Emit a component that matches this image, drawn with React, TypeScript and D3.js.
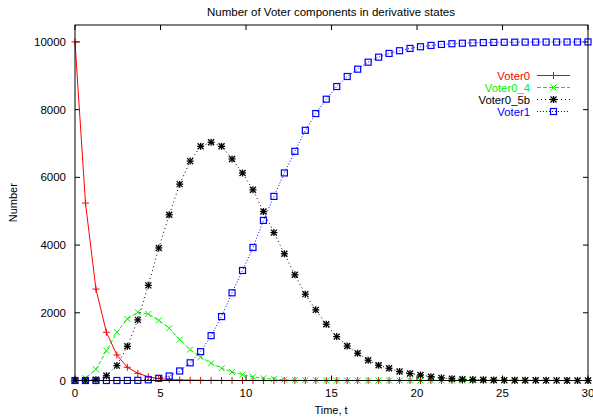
import React from "react";
import * as d3 from "d3";

const W = 593;
const H = 420;

const title = "Number of Voter components in derivative states";
const xLabel = "Time, t";
const yLabel = "Number";

const xTicks = [0, 5, 10, 15, 20, 25, 30];
const yTicks = [0, 2000, 4000, 6000, 8000, 10000];

const tEnd = 30;
const nSamples = 50;

const voter0 = [10000, 5240, 2700, 1425, 754, 390, 213, 112, 58, 30, 16, 8, 4, 2, 1, 1, 0, 0, 0, 0, 0, 0, 0, 0, 0, 0, 0, 0, 0, 0, 0, 0, 0, 0, 0, 0, 0, 0, 0, 0, 0, 0, 0, 0, 0, 0, 0, 0, 0, 0];
const voter0_4 = [0, 70, 330, 880, 1425, 1820, 2015, 1965, 1775, 1545, 1210, 915, 690, 508, 360, 250, 172, 112, 65, 38, 22, 13, 8, 5, 3, 2, 1, 1, 0, 0, 0, 0, 0, 0, 0, 0, 0, 0, 0, 0, 0, 0, 0, 0, 0, 0, 0, 0, 0, 0];
const voter0_5b = [0, 2, 20, 140, 440, 1010, 1790, 2810, 3915, 4896, 5800, 6480, 6917, 7036, 6917, 6544, 6130, 5632, 4990, 4368, 3743, 3121, 2550, 2086, 1663, 1296, 1020, 805, 598, 450, 361, 266, 205, 163, 112, 78, 50, 36, 27, 20, 15, 11, 8, 6, 5, 4, 3, 2, 1, 1];
const voter1 = [0, 0, 0, 0, 0, 2, 5, 20, 65, 133, 281, 522, 852, 1325, 1888, 2590, 3249, 3929, 4728, 5438, 6130, 6769, 7390, 7885, 8308, 8683, 8979, 9195, 9402, 9550, 9660, 9740, 9808, 9858, 9896, 9926, 9947, 9962, 9973, 9981, 9986, 9990, 9993, 9995, 9996, 9997, 9998, 9999, 9999, 10000];

const seriesNames = ["Voter0", "Voter0_4", "Voter0_5b", "Voter1"];
const seriesColors = ["#ff0000", "#00f000", "#000000", "#0000ff"];
const seriesDash = ["none", "4,2", "1,3", "1,2"];
const seriesMarker = ["plus", "cross", "star", "square"];

const FONT = "'Liberation Sans', Arial, Helvetica, sans-serif";

function Marker({ type, x, y, color }: { type: string; x: number; y: number; color: string }) {
  const s = 3.5;
  if (type === "plus") {
    return (
      <g stroke={color} strokeWidth={1}>
        <line x1={x - s} y1={y} x2={x + s} y2={y} />
        <line x1={x} y1={y - s} x2={x} y2={y + s} />
      </g>
    );
  }
  if (type === "cross") {
    const c = 3;
    return (
      <g stroke={color} strokeWidth={1}>
        <line x1={x - c} y1={y - c} x2={x + c} y2={y + c} />
        <line x1={x - c} y1={y + c} x2={x + c} y2={y - c} />
      </g>
    );
  }
  if (type === "star") {
    const c = 3;
    return (
      <g stroke={color} strokeWidth={1.3}>
        <line x1={x - s} y1={y} x2={x + s} y2={y} />
        <line x1={x} y1={y - s} x2={x} y2={y + s} />
        <line x1={x - c} y1={y - c} x2={x + c} y2={y + c} />
        <line x1={x - c} y1={y + c} x2={x + c} y2={y - c} />
      </g>
    );
  }
  return <rect x={x - 3} y={y - 3} width={6} height={6} fill="none" stroke={color} strokeWidth={1.2} />;
}

export default function App() {
  const left = 75;
  const right = 588;
  const top = 25;
  const bottom = 380.5;

  const x = d3.scaleLinear().domain([0, 30]).range([left, right]);
  const y = d3.scaleLinear().domain([0, 10500]).range([bottom, top]);

  const times = d3.range(nSamples).map((i) => (i * tEnd) / (nSamples - 1));
  const allSeries = [voter0, voter0_4, voter0_5b, voter1];

  const line = d3
    .line<number>()
    .x((_, i) => x(times[i]))
    .y((d) => y(d));

  const tickLen = 5;

  const legendTextX = 530;
  const legendLineX1 = 537;
  const legendLineX2 = 570;
  const legendY0 = 75.5;
  const legendDy = 12;

  return (
    <svg
      width={W}
      height={H}
      style={{ position: "absolute", left: 0, top: 0, background: "#fff" }}
      fontFamily={FONT}
    >
      <rect x={0} y={0} width={W} height={H} fill="#fff" />
      <text x={331} y={16} fontSize={11.5} textAnchor="middle" fill="#000">
        {title}
      </text>

      {yTicks.map((t) => (
        <g key={"y" + t}>
          <line x1={left} x2={left + tickLen} y1={y(t)} y2={y(t)} stroke="#000" />
          <line x1={right} x2={right - tickLen} y1={y(t)} y2={y(t)} stroke="#000" />
          <text x={66} y={y(t) + 4} fontSize={11.5} textAnchor="end" fill="#000">
            {t}
          </text>
        </g>
      ))}
      {xTicks.map((t) => (
        <g key={"x" + t}>
          <line x1={x(t)} x2={x(t)} y1={bottom} y2={bottom - tickLen} stroke="#000" />
          <line x1={x(t)} x2={x(t)} y1={top} y2={top + tickLen} stroke="#000" />
          <text x={x(t)} y={397} fontSize={11.5} textAnchor="middle" fill="#000">
            {t}
          </text>
        </g>
      ))}

      <text x={331} y={414} fontSize={11} textAnchor="middle" fill="#000">
        {xLabel}
      </text>
      <text
        transform={`translate(17,${(top + bottom) / 2}) rotate(-90)`}
        fontSize={11}
        textAnchor="middle"
        fill="#000"
      >
        {yLabel}
      </text>

      {allSeries.map((vals, si) => (
        <g key={"s" + si}>
          <path
            d={line(vals) || ""}
            fill="none"
            stroke={seriesColors[si]}
            strokeWidth={1}
            strokeDasharray={seriesDash[si] === "none" ? undefined : seriesDash[si]}
          />
          {vals.map((v, i) => (
            <Marker key={i} type={seriesMarker[si]} x={x(times[i])} y={y(v)} color={seriesColors[si]} />
          ))}
        </g>
      ))}

      <rect x={left} y={top} width={right - left} height={bottom - top} fill="none" stroke="#000" strokeWidth={1} />

      {seriesNames.map((name, si) => {
        const ly = legendY0 + si * legendDy;
        return (
          <g key={"l" + si}>
            <text x={legendTextX} y={ly + 4} fontSize={11.3} textAnchor="end" fill={seriesColors[si]}>
              {name}
            </text>
            <line
              x1={legendLineX1}
              x2={legendLineX2}
              y1={ly}
              y2={ly}
              stroke={seriesColors[si]}
              strokeWidth={1}
              strokeDasharray={seriesDash[si] === "none" ? undefined : seriesDash[si]}
            />
            <Marker type={seriesMarker[si]} x={(legendLineX1 + legendLineX2) / 2} y={ly} color={seriesColors[si]} />
          </g>
        );
      })}
    </svg>
  );
}
